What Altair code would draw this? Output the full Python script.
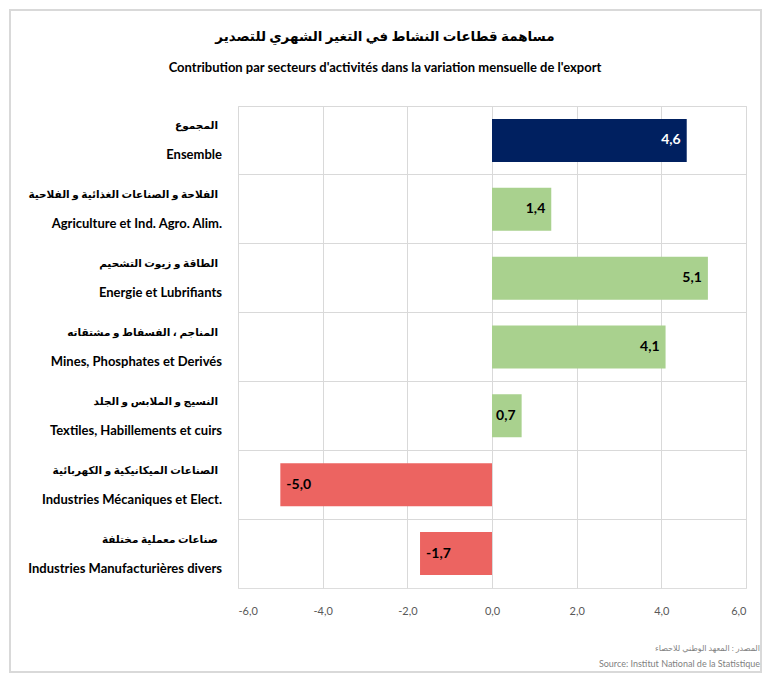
import altair as alt
import pandas as pd

sectors_fr = [
    "Ensemble",
    "Agriculture et Ind. Agro. Alim.",
    "Energie et Lubrifiants",
    "Mines, Phosphates et Derivés",
    "Textiles, Habillements et cuirs",
    "Industries Mécaniques et Elect.",
    "Industries Manufacturières divers",
]
sectors_ar = [
    "المجموع",
    "الفلاحة و الصناعات الغذائية و الفلاحية",
    "الطاقة و زيوت التشحيم",
    "المناجم ، الفسفاط و مشتقاته",
    "النسيج و الملابس و الجلد",
    "الصناعات الميكانيكية و الكهربائية",
    "صناعات معملية مختلفة",
]
values = [4.6, 1.4, 5.1, 4.1, 0.7, -5.0, -1.7]
kinds = ["total", "pos", "pos", "pos", "pos", "neg", "neg"]
x_ticks = [-6, -4, -2, 0, 2, 4, 6]

title_ar = "مساهمة قطاعات النشاط في التغير الشهري للتصدير"
title_fr = "Contribution par secteurs d'activités dans la variation mensuelle de l'export"
source_ar = "المصدر : المعهد الوطني للاحصاء"
source_fr = "Source: Institut National de la Statistique"

df = pd.DataFrame({"fr": sectors_fr, "ar": sectors_ar, "value": values, "kind": kinds})
meta = pd.DataFrame({"t1": [title_ar], "t2": [title_fr], "s1": [source_ar], "s2": [source_fr]})

W, H = 508, 482
FONT = "Lato, 'DejaVu Sans', sans-serif"
GRID = "#d9d9d9"
NUMFMT = "replace(replace(format(datum.value, '.1f'), '.', ','), '\u2212', '-')"

yscale = alt.Scale(domain=sectors_fr, paddingInner=0, paddingOuter=0)
xscale = alt.Scale(domain=[-6, 6], nice=False)

base = alt.Chart(df).transform_calculate(lab=NUMFMT)

bars = base.mark_bar(size=43).encode(
    x=alt.X("value:Q", scale=xscale,
            axis=alt.Axis(values=x_ticks, title=None, grid=True, gridColor=GRID,
                          domain=False, ticks=False, labelColor="#595959",
                          labelFontSize=11, labelFont=FONT, labelPadding=17,
                          labelExpr=NUMFMT)),
    y=alt.Y("fr:N", scale=yscale, sort=None,
            axis=alt.Axis(title=None, labels=False, ticks=False, domain=False,
                          grid=True, gridColor=GRID, bandPosition=0)),
    color=alt.Color("kind:N", legend=None,
                    scale=alt.Scale(domain=["total", "pos", "neg"],
                                    range=["#002060", "#a9d18e", "#ec6461"])),
)

pos_text = base.transform_filter("datum.value >= 0").mark_text(
    align="right", baseline="middle", dx=-6, font=FONT, fontSize=14, fontWeight="bold"
).encode(
    x=alt.X("value:Q", scale=xscale),
    y=alt.Y("fr:N", scale=yscale, sort=None),
    text="lab:N",
    color=alt.condition("datum.kind == 'total'", alt.value("white"), alt.value("black")),
)

neg_text = base.transform_filter("datum.value < 0").mark_text(
    align="left", baseline="middle", dx=6, font=FONT, fontSize=14, fontWeight="bold", color="black"
).encode(
    x=alt.X("value:Q", scale=xscale),
    y=alt.Y("fr:N", scale=yscale, sort=None),
    text="lab:N",
)

ar_labels = base.mark_text(
    align="right", baseline="middle", dy=-14, font=FONT, fontSize=10.5, fontWeight="bold", color="black"
).encode(
    x=alt.value(-20),
    y=alt.Y("fr:N", scale=yscale, sort=None),
    text="ar:N",
)

fr_labels = base.mark_text(
    align="right", baseline="middle", dy=15, font=FONT, fontSize=13, fontWeight="bold", color="black"
).encode(
    x=alt.value(-16),
    y=alt.Y("fr:N", scale=yscale, sort=None),
    text="fr:N",
)

title1 = alt.Chart(meta).mark_text(
    align="center", baseline="middle", font=FONT, fontSize=13.5, fontWeight="bold", color="black"
).encode(x=alt.value(W / 2 - 107), y=alt.value(-69), text="t1:N")
title2 = alt.Chart(meta).mark_text(
    align="center", baseline="middle", font=FONT, fontSize=13, fontWeight="bold", color="black"
).encode(x=alt.value(W / 2 - 107), y=alt.value(-38), text="t2:N")

src1 = alt.Chart(meta).mark_text(
    align="right", baseline="middle", font=FONT, fontSize=8, color="#7f7f7f"
).encode(x=alt.value(W + 14), y=alt.value(H + 61), text="s1:N")
src2 = alt.Chart(meta).mark_text(
    align="right", baseline="middle", font=FONT, fontSize=9, color="#7f7f7f"
).encode(x=alt.value(W + 14), y=alt.value(H + 76), text="s2:N")

frame = alt.Chart(meta).mark_rect(fill=None, stroke=GRID, strokeWidth=2).encode(
    x=alt.value(-228), x2=alt.value(W + 15), y=alt.value(-96), y2=alt.value(H + 84)
)

chart = alt.layer(frame, bars, pos_text, neg_text, ar_labels, fr_labels,
                  title1, title2, src1, src2).properties(
    width=W,
    height=H,
    autosize=alt.AutoSizeParams(type="none"),
    padding={"left": 230, "top": 98, "right": 17, "bottom": 85},
).configure_view(stroke=GRID, strokeWidth=1.5).configure(background="white")

chart.save("out.html", embed_options={"renderer": "svg", "actions": False})
